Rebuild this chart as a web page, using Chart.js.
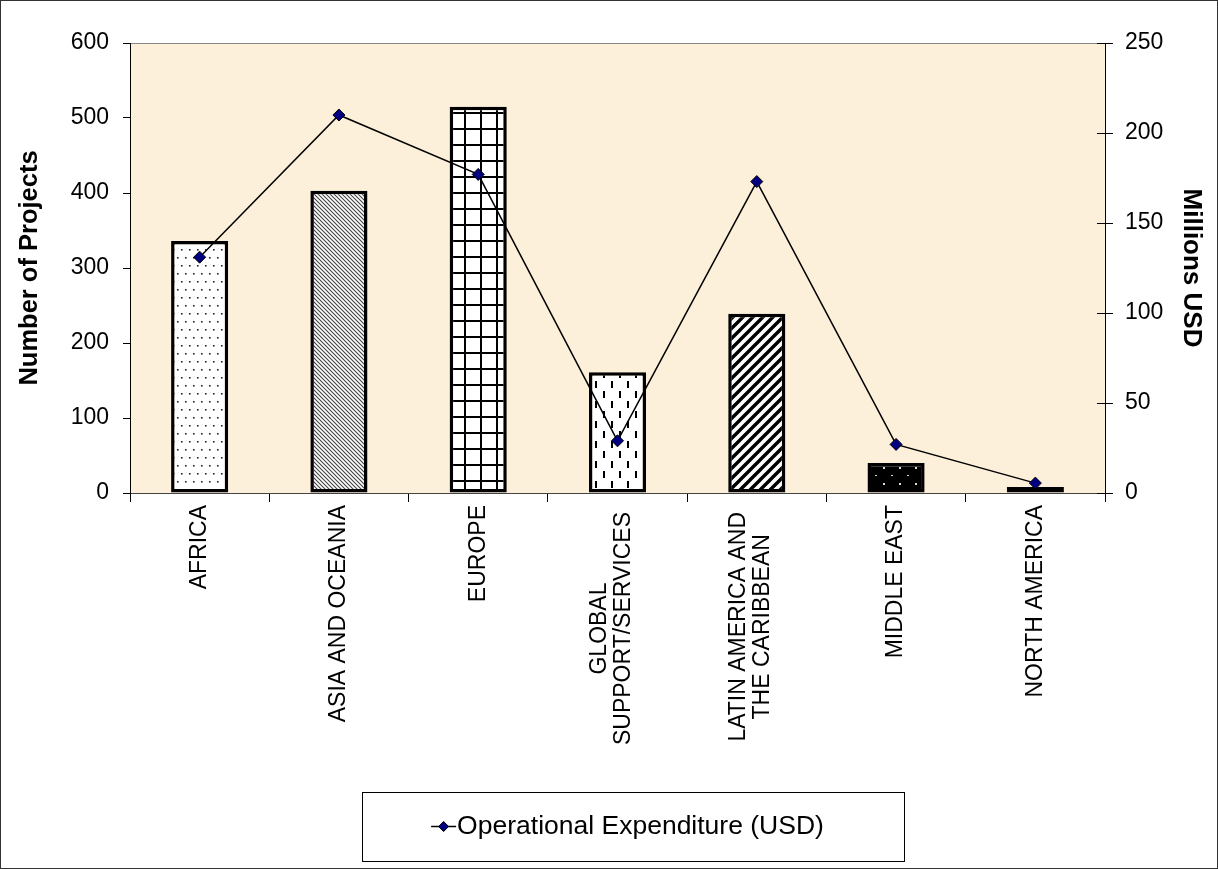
<!DOCTYPE html>
<html>
<head>
<meta charset="utf-8">
<script src="https://cdn.jsdelivr.net/npm/chart.js@4.4.1/dist/chart.umd.min.js"></script>
<style>
  html, body { margin: 0; padding: 0; background: #fff; }
  #wrap { width: 1218px; height: 869px; position: relative; }
</style>
</head>
<body>
<div id="wrap"><canvas id="regionChart"></canvas></div>
<script>
// values
const regions = ['AFRICA', 'ASIA AND OCEANIA', 'EUROPE', ['GLOBAL', 'SUPPORT/SERVICES'], ['LATIN AMERICA AND', 'THE CARIBBEAN'], 'MIDDLE EAST', 'NORTH AMERICA'];
const projectCounts = [336, 403, 515, 161, 239, 40, 8];
const expenditureMillions = [131, 210, 177, 29, 173, 27, 5.5];
const projectTicks = [0, 100, 200, 300, 400, 500, 600];
const expenditureTicks = [0, 50, 100, 150, 200, 250];

const FONT = 'Liberation Sans, Arial, Helvetica, sans-serif';
Chart.defaults.font.family = FONT;
Chart.defaults.color = '#000';

// fill patterns, one per region
function makePattern(w, h, draw) {
  const c = document.createElement('canvas');
  c.width = w; c.height = h;
  const g = c.getContext('2d');
  draw(g, w, h);
  return g.createPattern(c, 'repeat');
}

const patterns = [
  // africa: sparse dots
  makePattern(8, 16, (g, w, h) => {
    g.fillStyle = '#fff'; g.fillRect(0, 0, w, h);
    g.fillStyle = '#222';
    g.fillRect(1, 1, 1.6, 1.6);
    g.fillRect(5, 9, 1.6, 1.6);
  }),
  // asia: fine backslash hatch
  makePattern(4, 4, (g, w, h) => {
    g.fillStyle = '#fff'; g.fillRect(0, 0, w, h);
    g.strokeStyle = '#444'; g.lineWidth = 1.1;
    g.beginPath();
    g.moveTo(-1, -1); g.lineTo(5, 5);
    g.moveTo(-1, 3); g.lineTo(1, 5);
    g.moveTo(3, -1); g.lineTo(5, 1);
    g.stroke();
  }),
  // europe: grid
  makePattern(16, 16, (g, w, h) => {
    g.fillStyle = '#fff'; g.fillRect(0, 0, w, h);
    g.fillStyle = '#000';
    g.fillRect(0, 0, w, 2);
    g.fillRect(0, 0, 2, h);
  }),
  // global: vertical dashes
  makePattern(16, 20, (g, w, h) => {
    g.fillStyle = '#fff'; g.fillRect(0, 0, w, h);
    g.fillStyle = '#000';
    g.fillRect(3, 1, 2, 7);
    g.fillRect(11, 11, 2, 7);
  }),
  // latin america: wide forward-slash hatch
  makePattern(10, 10, (g, w, h) => {
    g.fillStyle = '#fff'; g.fillRect(0, 0, w, h);
    g.strokeStyle = '#000'; g.lineWidth = 3.4;
    g.beginPath();
    g.moveTo(-2, 12); g.lineTo(12, -2);
    g.moveTo(-2, 2); g.lineTo(2, -2);
    g.moveTo(8, 12); g.lineTo(12, 8);
    g.stroke();
  }),
  // middle east: black with white dots
  makePattern(16, 16, (g, w, h) => {
    g.fillStyle = '#000'; g.fillRect(0, 0, w, h);
    g.fillStyle = '#ddd';
    g.fillRect(3, 3, 2, 2);
    g.fillRect(11, 11, 2, 1);
  }),
  // north america: black with white dashes
  makePattern(12, 6, (g, w, h) => {
    g.fillStyle = '#000'; g.fillRect(0, 0, w, h);
    g.fillStyle = '#ddd';
    g.fillRect(0, 3, 8, 1);
  })
];

const plotBackground = {
  id: 'plotBackground',
  beforeDraw(chart) {
    const { ctx, chartArea: a } = chart;
    ctx.save();
    ctx.fillStyle = '#fff';
    ctx.fillRect(0, 0, chart.width, chart.height);
    ctx.fillStyle = '#FCF0DA';
    ctx.fillRect(a.left, a.top, a.width, a.height);
    ctx.strokeStyle = '#888';
    ctx.lineWidth = 1;
    ctx.strokeRect(a.left + 0.5, a.top + 0.5, a.width, a.height);

    // two-line category labels: centre the lines on the tick and on each other
    const xs = chart.scales.x;
    xs.getLabelItems().forEach(item => {
      if (!Array.isArray(item.label) || item._centred) return;
      ctx.font = item.font.string;
      const longest = Math.max(...item.label.map(t => ctx.measureText(t).width));
      item.options.translation[0] -= (item.label.length - 1) * item.font.lineHeight / 2 + 6;
      item.options.translation[1] += longest / 2 + 7;
      item.options.textAlign = 'center';
      item._centred = true;
    });
    ctx.restore();
  },
  beforeDatasetsDraw(chart) {
    // right axis ticks cross the axis line
    const { ctx } = chart;
    const s = chart.scales.y1;
    ctx.save();
    ctx.strokeStyle = '#000';
    ctx.lineWidth = 1;
    s.ticks.forEach(t => {
      const y = Math.round(s.getPixelForValue(t.value)) + 0.5;
      ctx.beginPath();
      ctx.moveTo(s.left - 8, y);
      ctx.lineTo(s.left, y);
      ctx.stroke();
    });
    ctx.restore();
  }
};

const boxLegend = {
  id: 'boxLegend',
  afterDraw(chart) {
    const { ctx } = chart;
    const ds = chart.data.datasets[1];
    const box = { x: 362, y: 792, w: 542, h: 69 };
    ctx.save();
    ctx.strokeStyle = '#000';
    ctx.lineWidth = 1;
    ctx.strokeRect(box.x + 0.5, box.y + 0.5, box.w, box.h);

    ctx.font = '26.5px ' + FONT;
    const tw = ctx.measureText(ds.label).width;
    const lineW = 25;
    const x0 = box.x + box.w / 2 - (lineW + tw) / 2 - 6;
    const cy = box.y + box.h / 2;
    ctx.strokeStyle = ds.borderColor;
    ctx.lineWidth = ds.borderWidth;
    ctx.beginPath();
    ctx.moveTo(x0, cy);
    ctx.lineTo(x0 + lineW, cy);
    ctx.stroke();
    const mx = x0 + lineW / 2, r = 5;
    ctx.fillStyle = ds.pointBackgroundColor;
    ctx.strokeStyle = ds.pointBorderColor;
    ctx.lineWidth = 1;
    ctx.beginPath();
    ctx.moveTo(mx, cy - r); ctx.lineTo(mx + r, cy); ctx.lineTo(mx, cy + r); ctx.lineTo(mx - r, cy);
    ctx.closePath();
    ctx.fill(); ctx.stroke();

    ctx.fillStyle = '#000';
    ctx.textBaseline = 'middle';
    ctx.fillText(ds.label, x0 + lineW + 1, cy);

    // outer frame of the picture
    ctx.strokeStyle = '#333';
    ctx.strokeRect(0.5, 0.5, chart.width - 1, chart.height - 1);
    ctx.restore();
  }
};

new Chart(document.getElementById('regionChart'), {
  data: {
    labels: regions,
    datasets: [
      {
        type: 'bar',
        label: 'Number of Projects',
        data: projectCounts,
        yAxisID: 'y',
        backgroundColor: patterns,
        borderColor: '#000',
        borderWidth: 3.5,
        borderSkipped: false,
        barPercentage: 0.41,
        categoryPercentage: 1,
        order: 1
      },
      {
        type: 'line',
        label: 'Operational Expenditure (USD)',
        data: expenditureMillions,
        yAxisID: 'y1',
        borderColor: '#000',
        borderWidth: 1.5,
        tension: 0,
        pointStyle: 'rectRot',
        pointRadius: 6,
        pointBackgroundColor: '#000080',
        pointBorderColor: '#000',
        pointBorderWidth: 1,
        order: 0
      }
    ]
  },
  options: {
    responsive: true,
    maintainAspectRatio: false,
    animation: false,
    layout: { padding: { top: 43, left: 0, right: 0, bottom: 0 } },
    plugins: {
      legend: { display: false },
      tooltip: { enabled: false }
    },
    scales: {
      x: {
        offset: true,
        grid: { offset: true, drawOnChartArea: false, tickLength: 9, color: '#000' },
        border: { color: '#444' },
        ticks: { autoSkip: false, minRotation: 90, maxRotation: 90, padding: 3, font: { size: 23, lineHeight: 1.05 } },
        afterFit: s => { s.height = 376; }
      },
      y: {
        position: 'left',
        min: 0,
        max: 600,
        afterBuildTicks: s => { s.ticks = projectTicks.map(v => ({ value: v })); },
        grid: { drawOnChartArea: false, tickLength: 7, color: '#000' },
        border: { color: '#000' },
        ticks: { padding: 14, font: { size: 23 } },
        title: { display: true, text: 'Number of Projects', font: { size: 25.5, weight: 'bold' }, padding: { top: 15 } },
        afterFit: s => { s.width = 130; }
      },
      y1: {
        position: 'right',
        min: 0,
        max: 250,
        afterBuildTicks: s => { s.ticks = expenditureTicks.map(v => ({ value: v })); },
        grid: { drawOnChartArea: false, tickLength: 8, color: '#000' },
        border: { color: '#000' },
        ticks: { padding: 12, font: { size: 23 } },
        title: { display: true, text: 'Millions USD', font: { size: 26, weight: 'bold' }, padding: { top: 11 } },
        afterFit: s => { s.width = 113; }
      }
    }
  },
  plugins: [plotBackground, boxLegend]
});
</script>
</body>
</html>
